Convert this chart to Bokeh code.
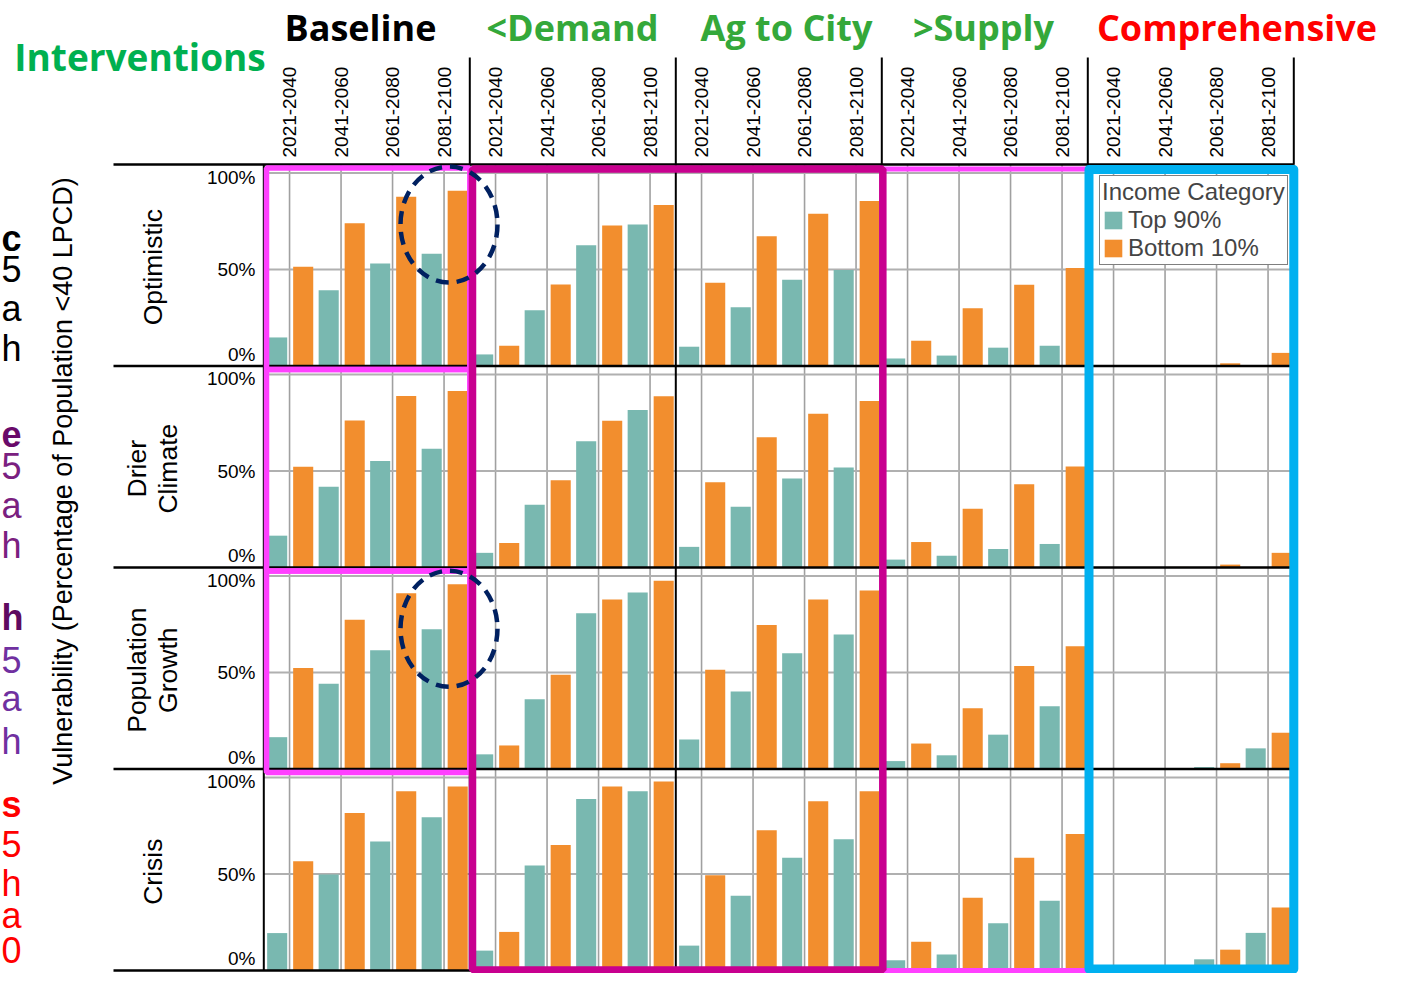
import math
from bokeh.plotting import figure
from bokeh.models import Range1d, ColumnDataSource, Legend, LegendItem
from bokeh.embed import file_html
from bokeh.resources import INLINE
from bokeh.core.properties import value

# ---------------- data ----------------
interventions = ["Baseline", "<Demand", "Ag to City", ">Supply", "Comprehensive"]
intervention_colors = ["#000000", "#34A83A", "#34A83A", "#34A83A", "#FF0000"]
scenarios = ["Optimistic", "Drier\nClimate", "Population\nGrowth", "Crisis"]
periods = ["2021-2040", "2041-2060", "2061-2080", "2081-2100"]
income_categories = ["Top 90%", "Bottom 10%"]
y_ticks = [1.0, 0.5, 0.0]
y_tick_labels = ["100%", "50%", "0%"]

# each list: one row per intervention, one value per period (fraction of population)
top90_optimistic = [[0.148, 0.393, 0.531, 0.582],
                    [0.060, 0.289, 0.626, 0.733],
                    [0.100, 0.305, 0.447, 0.498],
                    [0.039, 0.054, 0.095, 0.105],
                    [0.000, 0.000, 0.000, 0.000]]
bottom10_optimistic = [[0.515, 0.740, 0.878, 0.908],
                       [0.105, 0.422, 0.728, 0.835],
                       [0.432, 0.672, 0.789, 0.855],
                       [0.131, 0.299, 0.421, 0.508],
                       [0.000, 0.003, 0.014, 0.068]]
top90_drier = [[0.165, 0.419, 0.552, 0.615],
               [0.076, 0.325, 0.655, 0.817],
               [0.107, 0.315, 0.462, 0.518],
               [0.041, 0.061, 0.096, 0.122],
               [0.000, 0.000, 0.000, 0.000]]
bottom10_drier = [[0.522, 0.762, 0.889, 0.915],
                  [0.127, 0.452, 0.761, 0.888],
                  [0.442, 0.675, 0.797, 0.863],
                  [0.132, 0.305, 0.431, 0.523],
                  [0.000, 0.003, 0.015, 0.076]]
top90_popgrowth = [[0.165, 0.442, 0.615, 0.724],
                   [0.076, 0.361, 0.808, 0.915],
                   [0.153, 0.402, 0.600, 0.697],
                   [0.041, 0.071, 0.178, 0.325],
                   [0.000, 0.000, 0.010, 0.107]]
bottom10_popgrowth = [[0.524, 0.774, 0.911, 0.958],
                      [0.122, 0.488, 0.879, 0.976],
                      [0.514, 0.747, 0.879, 0.925],
                      [0.132, 0.315, 0.534, 0.636],
                      [0.000, 0.005, 0.030, 0.188]]
top90_crisis = [[0.194, 0.498, 0.669, 0.794],
                [0.103, 0.544, 0.889, 0.929],
                [0.129, 0.387, 0.585, 0.681],
                [0.053, 0.083, 0.245, 0.362],
                [0.000, 0.000, 0.058, 0.195]]
bottom10_crisis = [[0.567, 0.817, 0.929, 0.954],
                   [0.200, 0.651, 0.954, 0.980],
                   [0.494, 0.727, 0.878, 0.929],
                   [0.149, 0.377, 0.585, 0.707],
                   [0.000, 0.000, 0.108, 0.327]]

top90 = [top90_optimistic, top90_drier, top90_popgrowth, top90_crisis]
bottom10 = [bottom10_optimistic, bottom10_drier, bottom10_popgrowth, bottom10_crisis]

TEAL = "#79B8B0"
ORANGE = "#F28E2E"

# ---------------- layout (picture px) ----------------
W, H = 1385, 973
X0 = 263.3          # picture x of data x = 0
PXX = 51.5          # px per period slot
ROW_TOP = 164.0     # picture y of top of first panel row
ROW_PITCH = 201.5
PXY = 192.9         # px per 100 %
RH = ROW_PITCH / PXY
Y0 = ROW_TOP + 4 * ROW_PITCH


def dx(s):
    return (s - X0) / PXX


def dy(s):
    return (Y0 - s) / PXY


def oy(ref):
    # reference y inside the panel block -> output y
    return ROW_TOP + (ref - 166.3) * (4 * ROW_PITCH / 819.1)


def base(r):
    return (3 - r) * RH


p = figure(width=W, height=H,
           x_range=Range1d(dx(0), dx(W)),
           y_range=Range1d(dy(H), dy(0)),
           output_backend="svg", toolbar_location=None,
           x_axis_location=None, y_axis_location=None,
           min_border=0, title=None)
p.grid.visible = False
p.outline_line_color = None
p.background_fill_color = "white"
p.border_fill_color = "white"

ARIAL = value("Liberation Sans")
BOLDF = value("Open Sans")

# ---------------- gridlines ----------------
gx0, gy0, gx1, gy1 = [], [], [], []
for r in range(4):
    for c in range(5):
        for i in range(4):
            x = 4 * c + i + 0.5
            gx0.append(x); gx1.append(x)
            gy0.append(base(r)); gy1.append(base(r) + RH)
p.segment(gx0, gy0, gx1, gy1, line_color="#A0A0A0", line_width=1.6)
hx0, hy0, hx1, hy1 = [], [], [], []
for r in range(4):
    for t in (0.5, 1.0):
        hx0.append(0); hx1.append(20)
        hy0.append(base(r) + t); hy1.append(base(r) + t)
p.segment(hx0, hy0, hx1, hy1, line_color="#B0B0B0", line_width=2)

# ---------------- bars ----------------
tx, tt, tb, ox_, ot, ob = [], [], [], [], [], []
for r in range(4):
    for c in range(5):
        for i in range(4):
            tx.append(4 * c + i + 0.26); tb.append(base(r)); tt.append(base(r) + top90[r][c][i])
            ox_.append(4 * c + i + 0.765); ob.append(base(r)); ot.append(base(r) + bottom10[r][c][i])
src_t = ColumnDataSource(dict(x=tx, top=tt, bottom=tb))
src_o = ColumnDataSource(dict(x=ox_, top=ot, bottom=ob))
r_teal = p.vbar(x="x", top="top", bottom="bottom", width=0.39, source=src_t,
                fill_color=TEAL, line_color=None)
r_orange = p.vbar(x="x", top="top", bottom="bottom", width=0.39, source=src_o,
                  fill_color=ORANGE, line_color=None)

# ---------------- black frame lines ----------------
bx0, by0, bx1, by1 = [], [], [], []
for r in range(5):
    y = r * RH
    bx0.append(dx(113)); bx1.append(20); by0.append(y); by1.append(y)
p.segment(bx0, by0, bx1, by1, line_color="black", line_width=2.5)
vx = [0, 4, 8, 12, 16, 20]
p.segment(vx, [0] * 6, vx, [4 * RH] * 6, line_color="black", line_width=2)
hv = [4, 8, 12, 16, 20]
p.segment(hv, [4 * RH] * 5, hv, [dy(57)] * 5, line_color="black", line_width=2)

# ---------------- tick labels ----------------
tick_pos = {1.0: 0.978, 0.5: 0.5, 0.0: 0.06}
lx, ly, lt = [], [], []
for r in range(4):
    for t, lab in zip(y_ticks, y_tick_labels):
        lx.append(dx(255)); ly.append(base(r) + tick_pos[t]); lt.append(lab)
p.text(lx, ly, text=lt, text_font=ARIAL, text_font_size=value("19px"),
       text_align="right", text_baseline="middle", text_color="black")

px_, py_, pt_ = [], [], []
for c in range(5):
    for i in range(4):
        px_.append(4 * c + i + 0.5); py_.append(dy(157)); pt_.append(periods[i])
p.text(px_, py_, text=pt_, angle=math.pi / 2, text_font=ARIAL, text_font_size=value("19px"),
       text_align="left", text_baseline="middle", text_color="black")

# scenario labels
p.text([dx(152)] * 4, [base(r) + RH / 2 - 0.01 for r in range(4)], text=scenarios,
       angle=math.pi / 2, text_font=ARIAL, text_font_size=value("26.5px"),
       text_align="center", text_baseline="middle", text_line_height=1.05, text_color="black")

# y axis title
p.text([dx(62)], [dy(oy(488))], text=["Vulnerability (Percentage of Population <40 LPCD)"],
       angle=math.pi / 2, text_font=ARIAL, text_font_size=value("27px"),
       text_align="center", text_baseline="middle", text_color="black")

# header titles
title_centers = [360, 572, 786, 983, 1236.5]
for xc, t, col in zip(title_centers, interventions, intervention_colors):
    p.text([dx(xc)], [dy(27)], text=[t], text_font=BOLDF, text_font_style="bold",
           text_font_size=value("36px"), text_align="center", text_baseline="alphabetic",
           text_color=col)
p.text([dx(139.5)], [dy(56)], text=["Interventions"], text_font=BOLDF, text_font_style="bold",
       text_font_size=value("37px"), text_align="center", text_baseline="alphabetic",
       text_color="#00B050")

# clipped side labels at the far left
side_chars = [
    ("c", 242, "bold", "#000000"), ("5", 273, "normal", "#000000"),
    ("a", 313, "normal", "#000000"), ("h", 353, "normal", "#000000"),
    ("e", 440, "bold", "#6A0A6A"), ("5", 473, "normal", "#7A2080"),
    ("a", 513, "normal", "#7A2080"), ("h", 553, "normal", "#7A2080"),
    ("h", 627, "bold", "#5F0A60"), ("5", 670, "normal", "#7030A0"),
    ("a", 709, "normal", "#7030A0"), ("h", 753, "normal", "#7030A0"),
    ("s", 817, "bold", "#FF0000"), ("5", 857, "normal", "#FF0000"),
    ("h", 897, "normal", "#FF0000"), ("a", 930, "normal", "#FF0000"),
    ("0", 965, "normal", "#FF0000"),
]
for ch, yb, st, col in side_chars:
    p.text([dx(1)], [dy(oy(yb))], text=[ch], text_font=ARIAL, text_font_style=st,
           text_font_size=value("36px"), text_align="left", text_baseline="alphabetic",
           text_color=col)

# ---------------- highlight boxes ----------------
for r in range(3):
    p.quad(left=[dx(266)], right=[4.0], top=[base(r) + RH - 3.5 / PXY],
           bottom=[base(r) - 3.5 / PXY], fill_color=None, line_color="#FF40FF", line_width=5.5)
p.quad(left=[12.0], right=[16.0], top=[4 * RH - 4.5 / PXY], bottom=[0.0],
       fill_color=None, line_color="#FF40FF", line_width=5)
p.quad(left=[dx(472)], right=[12.02], top=[4 * RH - 4.5 / PXY], bottom=[0.5 / PXY],
       fill_color=None, line_color="#C8008F", line_width=7.5)
p.quad(left=[dx(1088.5)], right=[20.0], top=[4 * RH - 5 / PXY], bottom=[1.5 / PXY],
       fill_color=None, line_color="#00B0F0", line_width=9, line_join="round")

# dashed circles
p.ellipse(x=[dx(448.5)] * 2, y=[base(0) + 0.733, base(2) + 0.727],
          width=97 / PXX, height=116 / PXY, fill_color=None,
          line_color="#002060", line_width=4.5, line_dash="13 8")

# ---------------- legend ----------------
legend = Legend(items=[LegendItem(label=income_categories[0], renderers=[r_teal]),
                       LegendItem(label=income_categories[1], renderers=[r_orange])],
                location=(1099, H - 265), title="Income Category",
                title_text_font="Liberation Sans", title_text_font_style="normal",
                title_text_font_size="24px", title_standoff=0,
                label_text_font="Liberation Sans", label_text_font_size="24px",
                glyph_width=22, glyph_height=22, label_standoff=4, label_height=24,
                padding=2, spacing=0, margin=0,
                border_line_color="black", border_line_width=1.5,
                background_fill_color="white", background_fill_alpha=1.0)
p.add_layout(legend)

open("out.html", "w").write(file_html(p, INLINE))
